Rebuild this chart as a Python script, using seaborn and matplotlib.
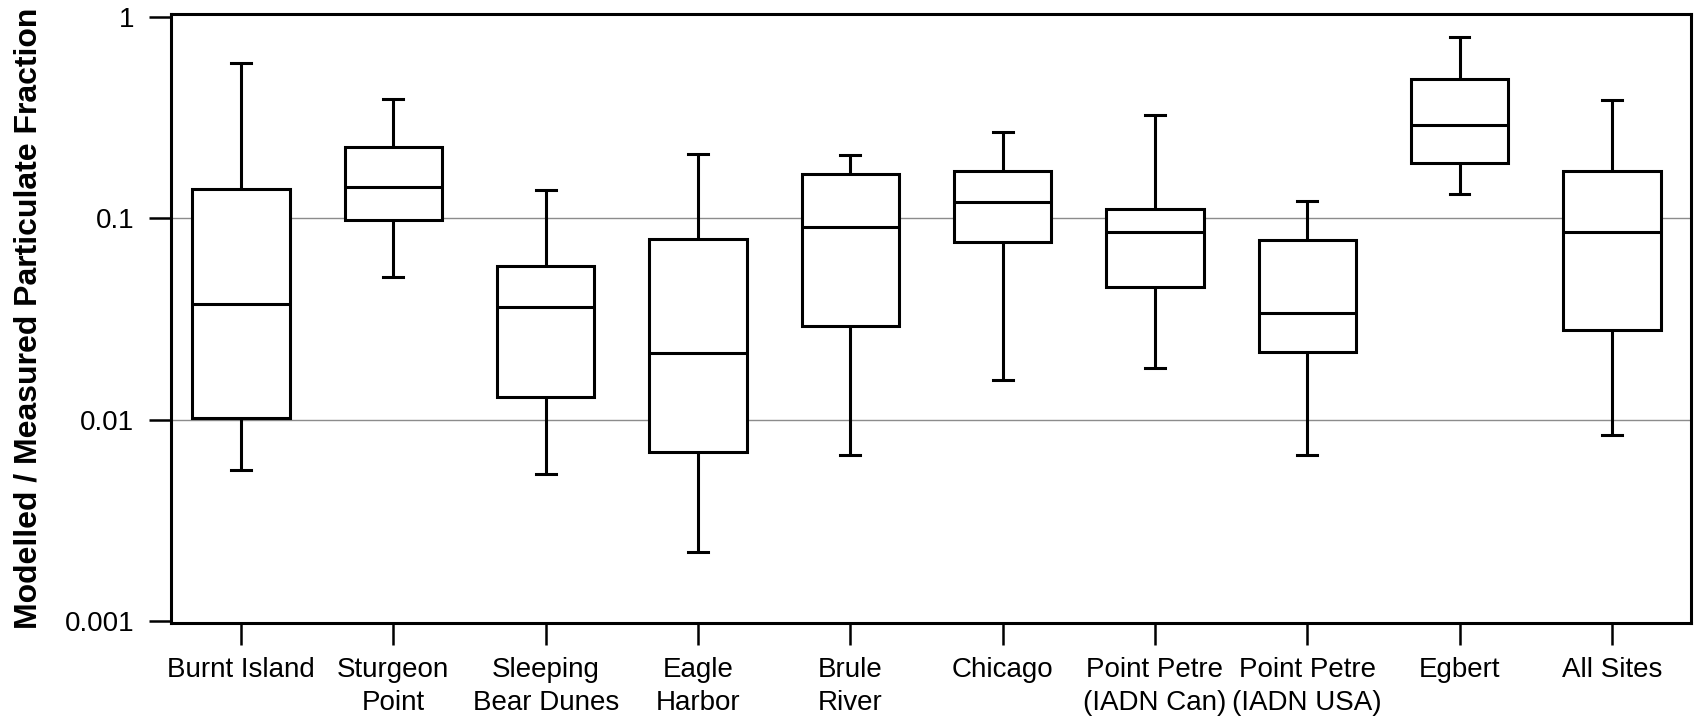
import numpy as np
import pandas as pd
import seaborn as sns
import matplotlib.pyplot as plt
from matplotlib.ticker import NullLocator, FixedLocator, FixedFormatter

# Sites and box statistics
sites = ["Burnt Island", "Sturgeon Point", "Sleeping Bear Dunes", "Eagle Harbor",
         "Brule River", "Chicago", "Point Petre (IADN Can)", "Point Petre (IADN USA)",
         "Egbert", "All Sites"]
tick_labels = ["Burnt Island", "Sturgeon\nPoint", "Sleeping\nBear Dunes", "Eagle\nHarbor",
               "Brule\nRiver", "Chicago", "Point Petre\n(IADN Can)", "Point Petre\n(IADN USA)",
               "Egbert", "All Sites"]
whisker_low = [0.0056, 0.051, 0.0054, 0.0022, 0.0067, 0.0157, 0.0181, 0.0067, 0.131, 0.0084]
q1 = [0.0102, 0.0975, 0.0130, 0.0069, 0.0291, 0.0761, 0.0455, 0.0217, 0.187, 0.0279]
median = [0.0376, 0.142, 0.0362, 0.0215, 0.0905, 0.120, 0.0855, 0.0337, 0.289, 0.0850]
q3 = [0.139, 0.226, 0.0582, 0.0789, 0.165, 0.171, 0.111, 0.0781, 0.492, 0.171]
whisker_high = [0.588, 0.388, 0.1386, 0.209, 0.206, 0.269, 0.323, 0.121, 0.789, 0.386]

# five values per site -> quartiles come out exactly, whiskers at min/max
rows = []
for i, s in enumerate(sites):
    for v in (whisker_low[i], q1[i], median[i], q3[i], whisker_high[i]):
        rows.append({"site": s, "value": v})
df = pd.DataFrame(rows)

plt.rcParams["font.family"] = ["Liberation Sans", "DejaVu Sans"]

fig = plt.figure(figsize=(17.03, 7.21), dpi=100)
ax = fig.add_axes([0.1004, 0.1359, 0.8926, 0.8447])

box_width = 0.64
sns.boxplot(data=df, x="site", y="value", order=sites, whis=np.inf, width=box_width,
            log_scale=True, color="white", linecolor="black", linewidth=2.2,
            saturation=1, ax=ax, zorder=3)

# short whisker caps
cap_half = 0.065
for ln in ax.lines:
    xd = np.asarray(ln.get_xdata(), dtype=float)
    yd = np.asarray(ln.get_ydata(), dtype=float)
    if len(xd) == 2 and yd[0] == yd[1]:
        span = abs(xd[1] - xd[0])
        if 0 < span < 0.9 * box_width:
            c = xd.mean()
            ln.set_xdata([c - cap_half, c + cap_half])

ax.set_ylim(0.00098, 1.03)
ax.set_xlim(-0.46, 9.52)

ax.yaxis.set_major_locator(FixedLocator([0.001, 0.01, 0.1, 1]))
ax.yaxis.set_major_formatter(FixedFormatter(["0.001", "0.01", "0.1", "1"]))
ax.yaxis.set_minor_locator(NullLocator())
ax.set_xticks(range(len(sites)))
ax.set_xticklabels(tick_labels, linespacing=1.35)

ax.yaxis.grid(True, color="#8c8c8c", linewidth=1.0, zorder=0)
ax.set_axisbelow(True)
gl = ax.get_ygridlines()
gl[0].set_visible(False)
gl[-1].set_visible(False)

ax.tick_params(axis="both", direction="out", length=15.5, width=1.8, labelsize=20, color="black")
ax.tick_params(axis="y", pad=11)
ax.tick_params(axis="x", pad=9)
for sp in ax.spines.values():
    sp.set_linewidth(2.2)
    sp.set_color("black")

ax.set_xlabel("")
ax.set_ylabel("Modelled / Measured Particulate Fraction", fontsize=23, fontweight="bold")
ax.yaxis.set_label_coords(-0.084, 0.5)

fig.savefig("out.png", dpi=100, facecolor="white")
